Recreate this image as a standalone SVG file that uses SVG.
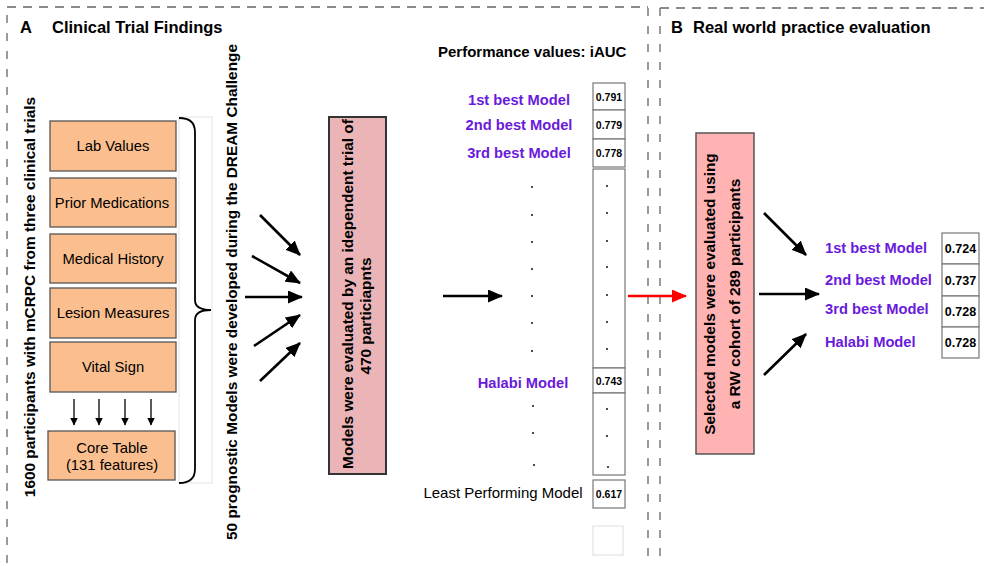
<svg xmlns="http://www.w3.org/2000/svg" width="984" height="566" viewBox="0 0 984 566">
<style>
text{font-family:"Liberation Sans",Arial,sans-serif;fill:#000}
.b{font-weight:bold}
.title{font-size:16.5px;font-weight:bold}
.dash{stroke:#666;stroke-width:1.3;fill:none}
.ob{fill:#FBBF8F;stroke:#555;stroke-width:1.3}
.ot{font-size:14.8px;text-anchor:middle}
.pl{fill:#6A1ADB;font-weight:bold;font-size:14.7px}
.vb{fill:#fff;stroke:#777;stroke-width:1.2}
.vt{font-size:10.5px;font-weight:bold;text-anchor:middle}
.vt2{font-size:12.5px;font-weight:bold;text-anchor:middle}
.rot{font-size:15.4px;font-weight:bold;text-anchor:middle}
.arr{stroke:#000;stroke-width:2.6;fill:none;marker-end:url(#ah)}
.sarr{stroke:#000;stroke-width:1.3;fill:none;marker-end:url(#sh)}
.dot{fill:#222}
</style>
<defs>
<marker id="ah" markerWidth="15" markerHeight="13" refX="14" refY="6.5" orient="auto" markerUnits="userSpaceOnUse"><path d="M0,0 L15,6.5 L0,13 z" fill="#000"/></marker>
<marker id="rh" markerWidth="15" markerHeight="13" refX="14" refY="6.5" orient="auto" markerUnits="userSpaceOnUse"><path d="M0,0 L15,6.5 L0,13 z" fill="#f00"/></marker>
<marker id="sh" markerWidth="8" markerHeight="8" refX="7.5" refY="4" orient="auto" markerUnits="userSpaceOnUse"><path d="M0,0 L8,4 L0,8 z" fill="#000"/></marker>
</defs>

<g id="panels">
<path class="dash" d="M7,7 H648" stroke-dasharray="9,7"/>
<path class="dash" d="M7,15 V566" stroke-dasharray="8,10"/>
<path class="dash" d="M648,8 V566" stroke-dasharray="8,10"/>
<path class="dash" d="M660,8 H984" stroke-dasharray="9,7"/>
<path class="dash" d="M660,8 V566" stroke-dasharray="8,10"/>
<text class="title" x="20" y="33">A</text>
<text class="title" x="52" y="33">Clinical Trial Findings</text>
<text class="title" x="671" y="33">B</text>
<text class="title" x="693" y="33">Real world practice evaluation</text>
</g>

<g id="label-1600">
<text class="rot" transform="translate(35,297) rotate(-90)">1600 participants with mCRPC from three clinical trials</text>
</g>

<g id="lab-values"><rect class="ob" x="50" y="121" width="126" height="50"/><text class="ot" x="113" y="151">Lab Values</text></g>
<g id="prior-medications"><rect class="ob" x="50" y="178" width="126" height="49"/><text class="ot" x="112" y="207.5">Prior Medications</text></g>
<g id="medical-history"><rect class="ob" x="50" y="234" width="126" height="49"/><text class="ot" x="113" y="263.5">Medical History</text></g>
<g id="lesion-measures"><rect class="ob" x="50" y="288" width="126" height="50"/><text class="ot" x="113" y="318">Lesion Measures</text></g>
<g id="vital-sign"><rect class="ob" x="50" y="342" width="126" height="50"/><text class="ot" x="113" y="372">Vital Sign</text></g>
<g id="core-table"><rect class="ob" x="48" y="431" width="127" height="49"/><text class="ot" x="112" y="453">Core Table</text><text class="ot" x="112" y="470">(131 features)</text></g>

<g id="brace">
<rect x="179" y="117" width="33" height="366" fill="none" stroke="#e4e4e4" stroke-width="1"/>
<path d="M179,118 Q195,118 195,132 L195,300 Q195,310 211,310 Q195,310 195,320 L195,469 Q195,483 179,483" fill="none" stroke="#000" stroke-width="1.8"/>
</g>

<g id="label-50">
<text class="rot" transform="translate(237,292) rotate(-90)">50 prognostic Models were developed during the DREAM Challenge</text>
</g>

<g id="eval-470">
<rect x="329" y="117" width="57" height="357" fill="#EBB5B8" stroke="#333" stroke-width="2"/>
<text class="rot" transform="translate(353,294) rotate(-90)">Models were evaluated by an idependent trial of</text>
<text class="rot" transform="translate(371,316) rotate(-90)">470 particiapnts</text>
</g>

<g id="perf-A">
<text class="b" x="438" y="57" font-size="15">Performance values: iAUC</text>
<text class="pl" x="519" y="105" text-anchor="middle">1st best Model</text>
<text class="pl" x="519" y="130" text-anchor="middle">2nd best Model</text>
<text class="pl" x="519" y="158" text-anchor="middle">3rd best Model</text>
<text class="pl" x="523" y="388" text-anchor="middle">Halabi Model</text>
<text x="503" y="498" font-size="15" text-anchor="middle">Least Performing Model</text>
<rect class="vb" x="593" y="83" width="32" height="27"/><text class="vt" x="609" y="100.5">0.791</text>
<rect class="vb" x="593" y="110" width="32" height="29"/><text class="vt" x="609" y="128.5">0.779</text>
<rect class="vb" x="593" y="139" width="32" height="28"/><text class="vt" x="609" y="157">0.778</text>
<rect class="vb" x="593" y="169" width="32" height="199"/>
<rect class="vb" x="593" y="368" width="32" height="25"/><text class="vt" x="609" y="385">0.743</text>
<rect class="vb" x="593" y="393" width="32" height="82"/>
<rect class="vb" x="593" y="480" width="32" height="28"/><text class="vt" x="609" y="498">0.617</text>
<rect x="593" y="526" width="30" height="29" fill="#fff" stroke="#ddd" stroke-width="1"/>
<g class="dot">
<circle cx="532" cy="187" r="1.1"/><circle cx="532" cy="215" r="1.1"/><circle cx="532" cy="242" r="1.1"/><circle cx="532" cy="269" r="1.1"/><circle cx="532" cy="296" r="1.1"/><circle cx="532" cy="323" r="1.1"/><circle cx="532" cy="351" r="1.1"/>
<circle cx="533" cy="406" r="1.1"/><circle cx="533" cy="433" r="1.1"/><circle cx="534" cy="465" r="1.1"/>
<circle cx="607" cy="186" r="1.1"/><circle cx="607" cy="213" r="1.1"/><circle cx="607" cy="241" r="1.1"/><circle cx="607" cy="267" r="1.1"/><circle cx="607" cy="295" r="1.1"/><circle cx="607" cy="322" r="1.1"/><circle cx="607" cy="349" r="1.1"/>
<circle cx="607" cy="409" r="1.1"/><circle cx="607" cy="436" r="1.1"/><circle cx="608" cy="467" r="1.1"/>
</g>
</g>

<g id="eval-289">
<rect x="696" y="133" width="58" height="321" fill="#FFB3B3" stroke="#555" stroke-width="1.5"/>
<text class="rot" transform="translate(715,294) rotate(-90)">Selected models were evaluated using</text>
<text class="rot" transform="translate(740,294) rotate(-90)">a RW cohort of 289 participants</text>
</g>

<g id="perf-B">
<text class="pl" x="825" y="253">1st best Model</text>
<text class="pl" x="825" y="285">2nd best Model</text>
<text class="pl" x="825" y="314">3rd best Model</text>
<text class="pl" x="825" y="347">Halabi Model</text>
<rect class="vb" x="942" y="233" width="37" height="31" stroke="#555"/><text class="vt2" x="960.5" y="253">0.724</text>
<rect class="vb" x="942" y="264" width="37" height="32" stroke="#555"/><text class="vt2" x="960.5" y="285">0.737</text>
<rect class="vb" x="942" y="296" width="37" height="31" stroke="#555"/><text class="vt2" x="960.5" y="316">0.728</text>
<rect class="vb" x="942" y="327" width="37" height="31" stroke="#555"/><text class="vt2" x="960.5" y="347">0.728</text>
</g>

<g id="connectors">
<line class="sarr" x1="74" y1="399" x2="74" y2="425"/>
<line class="sarr" x1="99" y1="399" x2="99" y2="425"/>
<line class="sarr" x1="125" y1="399" x2="125" y2="425"/>
<line class="sarr" x1="151" y1="399" x2="151" y2="425"/>
<line class="arr" x1="260" y1="215" x2="300" y2="255"/>
<line class="arr" x1="252" y1="256" x2="300" y2="283"/>
<line class="arr" x1="245" y1="297" x2="302" y2="297"/>
<line class="arr" x1="254" y1="346" x2="300" y2="315"/>
<line class="arr" x1="260" y1="381" x2="300" y2="343"/>
<line class="arr" x1="443" y1="296" x2="502" y2="296"/>
<line x1="628" y1="296" x2="686" y2="296" stroke="#f00" stroke-width="2.6" marker-end="url(#rh)"/>
<line class="arr" x1="764" y1="213" x2="806" y2="255"/>
<line class="arr" x1="759" y1="294" x2="819" y2="294"/>
<line class="arr" x1="764" y1="375" x2="806" y2="334"/>
</g>
</svg>
